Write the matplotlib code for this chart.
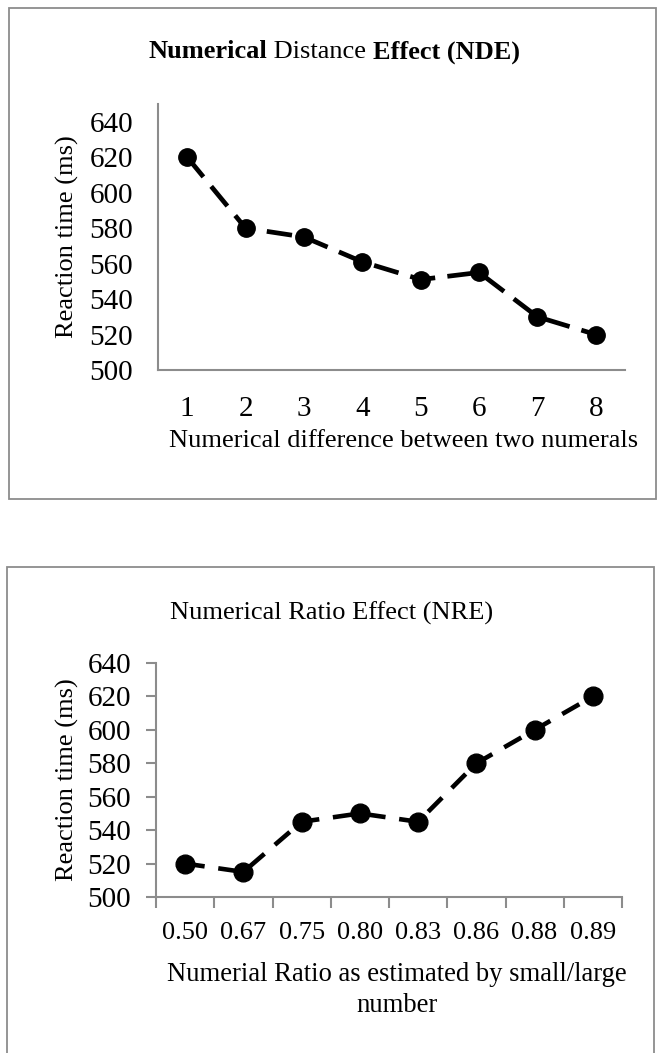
import matplotlib.pyplot as plt
from matplotlib.patches import Rectangle

plt.rcParams['font.family'] = ['Liberation Serif', 'DejaVu Serif']

# data
nde_diff = [1, 2, 3, 4, 5, 6, 7, 8]
nde_rt = [620, 580, 575, 561, 551, 555, 530, 520]

nre_labels = ["0.50", "0.67", "0.75", "0.80", "0.83", "0.86", "0.88", "0.89"]
nre_rt = [520, 515, 545, 550, 545, 580, 600, 620]

y_ticks = [500, 520, 540, 560, 580, 600, 620, 640]

W, H = 657, 1053
fig = plt.figure(figsize=(W / 100, H / 100), dpi=100)

def px_box(x0, y0, x1, y1):
    # pixel box (top-left origin) -> figure fraction [l, b, w, h]
    return [x0 / W, 1 - y1 / H, (x1 - x0) / W, (y1 - y0) / H]

grey = "#8c8c8c"

# panel frames
for (x0, y0, x1, y1) in [(9, 8, 656, 499), (7, 567, 654, 1070)]:
    l, b, w, h = px_box(x0, y0, x1, y1)
    fig.patches.append(Rectangle((l, b), w, h, transform=fig.transFigure,
                                 fill=False, edgecolor=grey, linewidth=1.3))

# ---- top chart: NDE
ax1 = fig.add_axes(px_box(158, 104, 625, 370))
ax1.plot(nde_diff, nde_rt, color="black", lw=3.4, ls=(0, (5.4, 2.6)),
         dash_capstyle="butt", marker="o", ms=12.5)
ax1.set_xlim(0.5, 8.5)
ax1.set_ylim(500, 650)
ax1.set_yticks(y_ticks)
ax1.set_xticks(nde_diff)
ax1.tick_params(axis="both", length=0, labelsize=21)
ax1.tick_params(axis="y", pad=18)
ax1.tick_params(axis="x", pad=19)
for s in ["top", "right"]:
    ax1.spines[s].set_visible(False)
for s in ["left", "bottom"]:
    ax1.spines[s].set_color(grey)
    ax1.spines[s].set_linewidth(1.5)
fig.text(67 / W, 1 - 237 / H, "Reaction time (ms)", rotation=90,
         ha="center", va="center", fontsize=19)
fig.text(404 / W, 1 - 441 / H, "Numerical difference between two numerals",
         ha="center", va="center", fontsize=19)

# mixed bold title
renderer = fig.canvas.get_renderer()
parts = [("Numerical", "bold"), (" Distance ", "normal"), ("Effect (NDE)", "bold")]
texts = [fig.text(0, 1 - 52 / H, s, fontweight=w, fontsize=19, ha="left",
                  va="center") for s, w in parts]
widths = [t.get_window_extent(renderer).width for t in texts]
x = 334 - sum(widths) / 2
for t, wd in zip(texts, widths):
    t.set_x(x / W)
    x += wd

# ---- bottom chart: NRE
ax2 = fig.add_axes(px_box(156, 663, 622, 897))
pos = list(range(1, len(nre_labels) + 1))
ax2.plot(pos, nre_rt, color="black", lw=3.3, ls=(0, (4.3, 3.0)),
         dash_capstyle="butt", marker="o", ms=13.5)
ax2.set_xlim(0.5, 8.5)
ax2.set_ylim(500, 640)
ax2.set_yticks(y_ticks)
ax2.set_xticks([p - 0.5 for p in pos] + [8.5])
ax2.set_xticklabels([])
ax2.set_xticks(pos, minor=True)
ax2.set_xticklabels(nre_labels, minor=True)
ax2.tick_params(axis="x", which="major", length=8, width=1.5, color=grey)
ax2.tick_params(axis="x", which="minor", length=0, labelsize=19, pad=18)
ax2.tick_params(axis="y", length=7, width=1.5, color=grey, labelsize=21, pad=11)
for s in ["top", "right"]:
    ax2.spines[s].set_visible(False)
for s in ["left", "bottom"]:
    ax2.spines[s].set_color(grey)
    ax2.spines[s].set_linewidth(1.5)
fig.text(67 / W, 1 - 780 / H, "Reaction time (ms)", rotation=90,
         ha="center", va="center", fontsize=19)
fig.text(332 / W, 1 - 613 / H, "Numerical Ratio Effect (NRE)",
         ha="center", va="center", fontsize=19)
fig.text(397 / W, 1 - 990 / H, "Numerial Ratio as estimated by small/large\nnumber",
         ha="center", va="center", fontsize=19.2, linespacing=1.3)

fig.savefig("out.png", dpi=100)
